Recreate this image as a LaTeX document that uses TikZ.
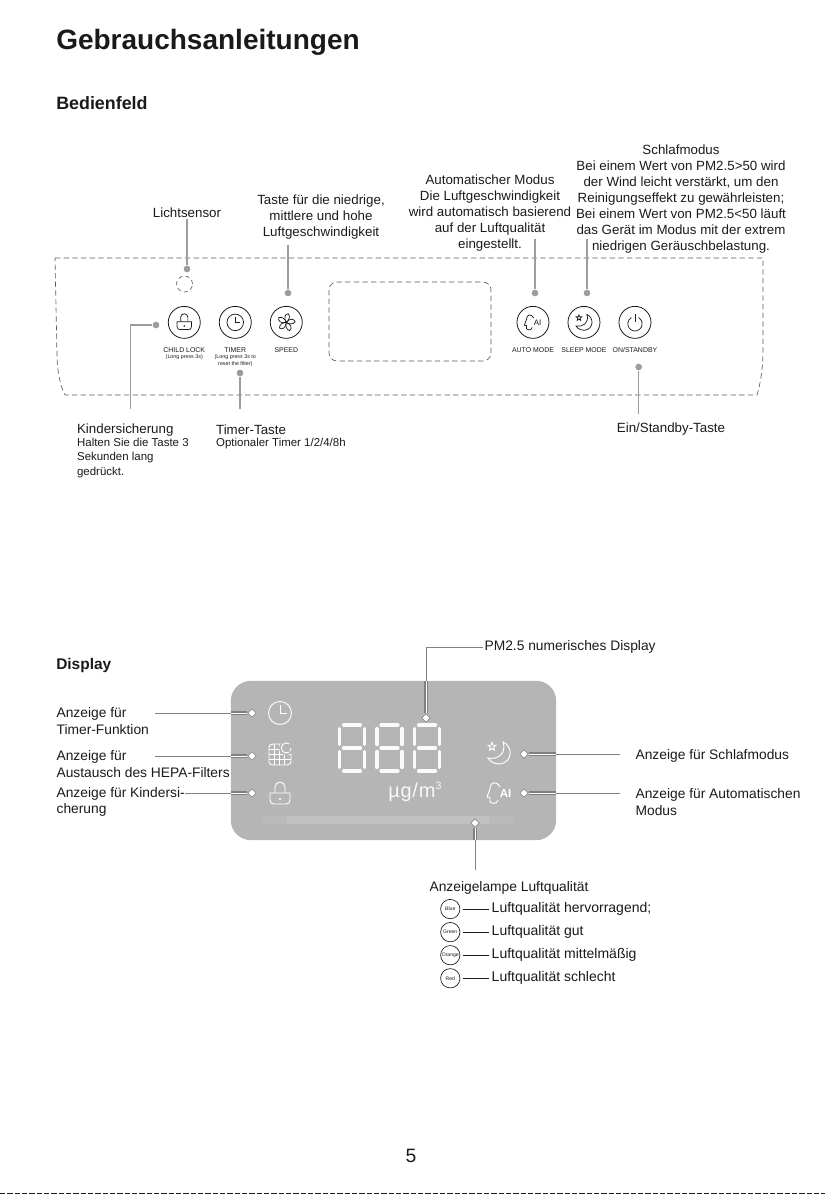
\documentclass[tikz,border=0pt]{standalone}
\usepackage{fontspec}
\setmainfont{Liberation Sans}
\definecolor{pgInk}{HTML}{1A1A1A}
\definecolor{pgLead}{HTML}{9C9C9C}
\definecolor{pgRule}{HTML}{808080}
\definecolor{pgDash}{HTML}{5A5A5A}
\definecolor{pgScreen}{HTML}{B5B5B5}
\definecolor{pgBar}{HTML}{C1C1C1}
\usetikzlibrary{matrix,shapes.geometric}
\tikzset{
  clockicon/.pic={
    \draw (0,0) circle[radius=11.5];
    \draw (0,-8) -- (0,0.5) -- (7,0.5);
  },
  lockicon/.pic={
    \draw (-5,-1) -- (-5,-7) arc[start angle=180,end angle=360,radius=5] -- (5,-1);
    \draw (-10,-1) -- (10,-1) -- (10,6) .. controls (10,9) and (8,10) .. (6,10) -- (-6,10) .. controls (-8,10) and (-10,9) .. (-10,6) -- cycle;
    \fill (0,5) circle[radius=1.2];
  },
  fanicon/.pic={
    \foreach \a in {0,72,144,216,288} {
      \draw[rotate=\a] (0,0) .. controls (4,-3) and (6,-8) .. (3,-12) .. controls (-2,-12) and (-4,-6) .. (0,0);
    }
  },
  filtericon/.pic={
    \draw (6,-11) -- (-7,-11) .. controls (-10,-11) and (-11,-9) .. (-11,-8) -- (-11,7) .. controls (-11,9) and (-9,10) .. (-7,10) -- (7,10) .. controls (10,10) and (11,8) .. (11,6) -- (11,-1);
    \foreach \a in {-6,-1,4} {
      \draw (\a,-11) -- (\a,10);
      \draw (-11,\a) -- (11,\a);
    }
    \fill[pgScreen] (6,-7) circle[radius=7];
    \draw (9.5,-11) arc[start angle=-50,end angle=-300,radius=5];
    \draw (11,-7) arc[start angle=0,end angle=40,radius=5];
  },
  moonicon/.pic={
    \draw (4,-11) .. controls (14,-7) and (14,9) .. (1,11) .. controls (-4,11) and (-9,9) .. (-11,5) .. controls (-2,7) and (8,1) .. (4,-11) -- cycle;
    \draw (-7,-10.5) -- (-6,-7.8) -- (-3.2,-7.7) -- (-5.3,-5.9) -- (-4.6,-2.8) -- (-7,-4.5) -- (-9.4,-2.8) -- (-8.7,-5.9) -- (-10.8,-7.7) -- (-8,-7.8) -- cycle;
  },
  headicon/.pic={
    \draw (1,-6) .. controls (-2,-12) and (-9,-12) .. (-9,-4) -- (-12,4) -- (-9,4.5) -- (-9,9) .. controls (-8,11) and (-5,10) .. (-3,10) -- (-1,7);
    \node[inner sep=0pt] (aimark) at (6.5,1) {AI};
  },
  powericon/.pic={
    \draw (5,-6.66) arc[start angle=-60,end angle=240,radius=10];
    \draw (0,-11.5) -- (0,0);
  },
  segicon/.pic={
    \foreach \y in {-23,0,23} {
      \draw (-8.5,\y) -- (8.5,\y);
    }
    \foreach \x in {-12.5,12.5} {
      \draw (\x,-19.5) -- (\x,-3.5);
      \draw (\x,3.5) -- (\x,19.5);
    }
  }
}
\begin{document}
\begin{tikzpicture}[x=0.75pt,y=-0.75pt,color=pgInk,
                    txt/.style={inner sep=1pt,align=center,font=\fontsize{10}{12.1}\selectfont},
                    txtl/.style={txt,align=left,anchor=west},
                    txtb/.style={inner sep=1pt,align=left,anchor=west,font=\fontsize{10.35}{12.6}\selectfont},
                    smalltxt/.style={inner sep=1pt,align=left,anchor=west,font=\fontsize{8.6}{11}\selectfont},
                    ttl/.style={inner sep=0pt,anchor=base west,font=\fontsize{21}{25}\bfseries\selectfont},
                    subttl/.style={inner sep=0pt,anchor=base west,font=\fontsize{13.4}{16}\bfseries\selectfont},
                    btn/.style={draw=pgInk,circle,inner sep=0pt,minimum size=24pt,line width=.6pt,anchor=north},
                    btncap/.style={inner sep=0pt,anchor=north,align=center,minimum width=38.25pt,font=\fontsize{5.2}{5.6}\selectfont},
                    lamp/.style={draw=pgInk,circle,inner sep=0pt,minimum size=14.5pt,line width=.5pt,anchor=west,font=\fontsize{3.8}{4}\selectfont},
                    lamptxt/.style={inner sep=2pt,anchor=west,font=\fontsize{10.5}{12}\selectfont},
                    leaddot/.style={circle,fill=pgLead,inner sep=0pt,minimum size=5pt},
                    endtip/.style={diamond,draw=pgRule,fill=white,inner sep=0pt,minimum size=6.5pt,line width=.4pt},
                    leadln/.style={draw=pgLead,line width=.8pt},
                    ruleln/.style={draw=pgRule,line width=.6pt},
                    coreln/.style={draw=pgRule,line width=1pt,double=white,double distance=.45pt},
                    dashln/.style={draw=pgDash,line width=.5pt,dash pattern=on 4pt off 2.5pt},
                    btnicon/.style={scale=.72,line width=.55pt,every node/.style={font=\fontsize{6}{6}\selectfont}},
                    scricon/.style={color=white,line width=.7pt,every node/.style={font=\fontsize{8.6}{9}\bfseries\selectfont}}]
  \useasboundingbox (0,0) rectangle (825,1194);

  \node[ttl] (title) at (56,50) {Gebrauchsanleitungen};
  \node[subttl] (bedien) at (56,110) {Bedienfeld};
  \node[font=\fontsize{11.6}{14}\bfseries\selectfont,inner sep=0pt,anchor=base west] (disp) at (56,669) {Display};

  \draw[dashln] (55,258) -- (763,258) -- (763,350) .. controls (763,370) and (760,385) .. (757,395)
              -- (65,395) .. controls (61,388) and (57,372) .. (57,355) -- cycle;
  \draw[dashln,rounded corners=6pt] (329,282) rectangle (491,361);
  \node[draw=pgDash,dash pattern=on 3pt off 2.5pt,circle,line width=.5pt,inner sep=0pt,minimum size=12pt] (sensor) at (184.5,284) {};

  \matrix[anchor=north west,inner sep=0pt,row sep=6.5pt] at (158.5,305.7) {
    \node[btn] (lockbtn) {};               & \node[btn] (timerbtn) {};  & \node[btn] (speedbtn) {}; \\
    \node[btncap] (lockcap) {CHILD LOCK\\[-1pt]{\fontsize{4}{5}\selectfont (Long press 3s)}};
      & \node[btncap] (timercap) {TIMER\\[-1pt]{\fontsize{4}{5}\selectfont (Long press 3s to}\\[-.5pt]{\fontsize{4}{5}\selectfont reset the filter)}};
      & \node[btncap] (speedcap) {SPEED}; \\
  };
  \matrix[anchor=north west,inner sep=0pt,row sep=6.5pt] at (507.2,305.7) {
    \node[btn] (autobtn) {};               & \node[btn] (sleepbtn) {}; & \node[btn] (powerbtn) {}; \\
    \node[btncap] (autocap) {AUTO MODE};   & \node[btncap] (sleepcap) {SLEEP MODE}; & \node[btncap] (powercap) {ON/STANDBY}; \\
  };
  \pic[btnicon] at (lockbtn) {lockicon};
  \pic[btnicon] at (timerbtn) {clockicon};
  \pic[btnicon] at (speedbtn) {fanicon};
  \pic[btnicon] at (autobtn) {headicon};
  \pic[btnicon] at (sleepbtn) {moonicon};
  \pic[btnicon] at (powerbtn) {powericon};

  \node[txt] (sensortxt) at (187,213) {Lichtsensor};
  \node[txt] (speedtxt) at (321,217) {Taste für die niedrige,\\mittlere und hohe\\Luftgeschwindigkeit};
  \node[txt] (autotxt) at (490,213) {Automatischer Modus\\Die Luftgeschwindigkeit\\wird automatisch basierend\\auf der Luftqualität\\eingestellt.};
  \node[txt] (sleeptxt) at (681,199) {Schlafmodus\\Bei einem Wert von PM2.5>50 wird\\der Wind leicht verstärkt, um den\\Reinigungseffekt zu gewährleisten;\\Bei einem Wert von PM2.5<50 läuft\\das Gerät im Modus mit der extrem\\niedrigen Geräuschbelastung.};
  \node[txtl] (kidtxt) at (75.5,430) {Kindersicherung};
  \node[smalltxt] (kidsub) at (75.5,458) {Halten Sie die Taste 3\\Sekunden lang\\gedrückt.};
  \node[txtl] (timertxt) at (214.5,430) {Timer-Taste};
  \node[smalltxt] (timersub) at (214.5,443.5) {Optionaler Timer 1/2/4/8h};
  \node[txt] (powertxt) at (671,429) {Ein/Standby-Taste};

  \node[leaddot] (sensordot) at (187,269) {};
  \node[leaddot] (speeddot) at (288,293) {};
  \node[leaddot] (autodot) at (535,293) {};
  \node[leaddot] (sleepdot) at (587,293) {};
  \node[leaddot] (lockdot) at (156,325) {};
  \node[leaddot] (timerdot) at (240,373) {};
  \node[leaddot] (powerdot) at (638.7,367) {};
  \coordinate (speedtop) at (288,245);
  \coordinate (autotop) at (535,239);
  \coordinate (sleeptop) at (587,239);
  \coordinate (lockend) at (130.3,409);
  \coordinate (timerend) at (240,409);
  \coordinate (powerend) at (638.7,414);
  \draw[leadln] (sensortxt.south -| sensordot) -- (sensordot);
  \draw[leadln] (speedtop) -- (speeddot);
  \draw[leadln] (autotop) -- (autodot);
  \draw[leadln] (sleeptop) -- (sleepdot);
  \draw[leadln] (lockdot) -| (lockend);
  \draw[leadln] (timerdot) -- (timerend);
  \draw[leadln] (powerdot) -- (powerend);

  \node[fill=pgScreen,rounded corners=15pt,inner sep=0pt,minimum width=244pt,minimum height=119.5pt] (screen) at (393.5,760.5) {};
  \fill[pgBar!45!pgScreen] (263,816) rectangle (513,824);
  \fill[pgBar] (287,816) rectangle (489,824);
  \pic[scricon] at (280,713) {clockicon};
  \pic[scricon] at (280,755) {filtericon};
  \pic[scricon] at (280,794) {lockicon};
  \pic[scricon] at (499,753) {moonicon};
  \pic[scricon] at (499,793) {headicon};
  \foreach \x in {352,389.5,427} {
    \pic[color=white!95!pgScreen,line width=2.4pt,line cap=round] at (\x,748) {segicon};
  }
  \node[text=white!90!pgScreen,inner sep=0pt,anchor=base west,font=\fontsize{15}{15}\addfontfeature{LetterSpace=4}\selectfont] (unit) at (388,797) {µg/m\raisebox{.7ex}{\fontsize{8}{8}\selectfont 3}};

  \node[txtb] (timerlab) at (55,721) {Anzeige für\\Timer-Funktion};
  \node[txtb] (filterlab) at (55,764) {Anzeige für\\Austausch des HEPA-Filters};
  \node[txtb] (kidlab) at (55,802) {Anzeige für Kindersi-\\cherung};
  \node[txtb] (sleeplab) at (634,755.5) {Anzeige für Schlafmodus};
  \node[txtb] (autolab) at (634,802) {Anzeige für Automatischen\\Modus};
  \node[txtb] (pmlab) at (483,647) {PM2.5 numerisches Display};
  \node[txtb] (lamplab) at (428,888) {Anzeigelampe Luftqualität};

  \node[endtip] (timertip) at (252,713) {};
  \node[endtip] (filtertip) at (252,756) {};
  \node[endtip] (kidtip) at (252,793) {};
  \node[endtip] (sleeptip) at (524,754) {};
  \node[endtip] (autotip) at (524,793) {};
  \node[endtip] (pmtip) at (426,718) {};
  \node[endtip] (lamptip) at (475,823) {};
  \coordinate (timerstart) at (155,713);
  \coordinate (filterstart) at (155,756);
  \coordinate (kidstart) at (185,793);
  \coordinate (sleepstart) at (620,754);
  \coordinate (autostart) at (620,793);
  \coordinate (lampstart) at (475,870);
  \draw[ruleln] (timerstart) -- (timertip);
  \draw[ruleln] (filterstart) -- (filtertip);
  \draw[ruleln] (kidstart) -- (kidtip);
  \draw[ruleln] (sleepstart) -- (sleeptip);
  \draw[ruleln] (autostart) -- (autotip);
  \draw[ruleln] (pmtip) |- (pmlab);
  \draw[ruleln] (lampstart) -- (lamptip);
  \foreach \t in {timertip,filtertip,kidtip} {
    \draw[coreln] (\t) -- (\t -| screen.west);
  }
  \foreach \t in {sleeptip,autotip} {
    \draw[coreln] (\t) -- (\t -| screen.east);
  }
  \draw[coreln] (pmtip) -- (pmtip |- screen.north);
  \draw[coreln] (lamptip) -- (lamptip |- screen.south);

  \matrix[anchor=north west,inner sep=0pt,row sep=2.3pt,column sep=21.6pt] at (440,898.8) {
    \node[lamp] (bluelamp) {Blue};     & \node[lamptxt] (bluetxt) {Luftqualität hervorragend;}; \\
    \node[lamp] (greenlamp) {Green};   & \node[lamptxt] (greentxt) {Luftqualität gut}; \\
    \node[lamp] (orangelamp) {Orange}; & \node[lamptxt] (orangetxt) {Luftqualität mittelmäßig}; \\
    \node[lamp] (redlamp) {Red};       & \node[lamptxt] (redtxt) {Luftqualität schlecht}; \\
  };
  \draw[ruleln,draw=pgInk,shorten <=2pt] (bluelamp) -- (bluetxt);
  \draw[ruleln,draw=pgInk,shorten <=2pt] (greenlamp) -- (greentxt);
  \draw[ruleln,draw=pgInk,shorten <=2pt] (orangelamp) -- (orangetxt);
  \draw[ruleln,draw=pgInk,shorten <=2pt] (redlamp) -- (redtxt);

  \node[inner sep=0pt,font=\fontsize{14.5}{16}\selectfont] (pagenum) at (411,1156) {5};
  \draw[pgInk,line width=.8pt,dash pattern=on 4pt off 1.5pt] (0,1193.4) -- (825,1193.4);
\end{tikzpicture}
\end{document}
